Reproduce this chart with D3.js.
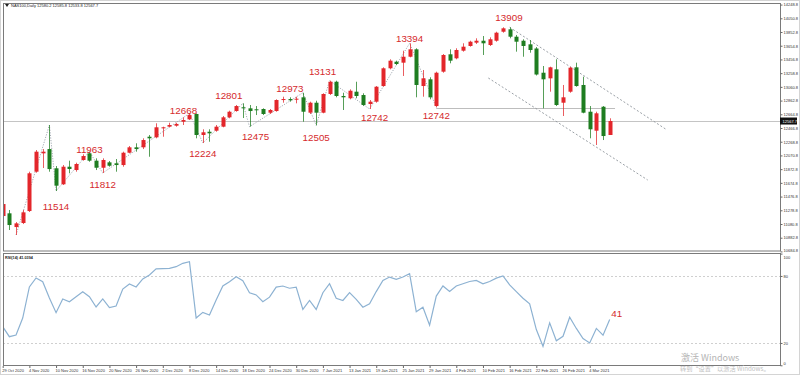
<!DOCTYPE html>
<html>
<head>
<meta charset="utf-8">
<script src="https://cdn.jsdelivr.net/npm/d3@7"></script>
<style>
body { margin: 0; background: #fff; }
svg { display: block; font-family: "Liberation Sans", Arial, sans-serif; }
</style>
</head>
<body>
<svg class="chart" width="800" height="375"></svg>
<script>
// ---- data ----
var dateLabels = ['29 Oct 2020', '4 Nov 2020', '10 Nov 2020', '16 Nov 2020', '20 Nov 2020', '26 Nov 2020',
    '2 Dec 2020', '8 Dec 2020', '14 Dec 2020', '18 Dec 2020', '24 Dec 2020', '30 Dec 2020',
    '7 Jan 2021', '13 Jan 2021', '19 Jan 2021', '25 Jan 2021', '29 Jan 2021', '4 Feb 2021',
    '10 Feb 2021', '16 Feb 2021', '22 Feb 2021', '26 Feb 2021', '4 Mar 2021'];

var opens  = [11196, 11235, 11037, 11095, 11268, 11836, 12101, 12163, 11885, 11654, 11908, 11860, 12005, 12101, 11995, 11893,
    11971, 11957, 11932, 12110, 12188, 12188, 12341, 12332, 12462, 12486, 12500, 12558, 12592, 12669, 12366, 12413,
    12428, 12486, 12621, 12712, 12766, 12751, 12737, 12741, 12688, 12712, 12871, 12885, 12881, 12910, 12688, 12832,
    12688, 12958, 13135, 12929, 12896, 12991, 12943, 12813, 12847, 13073, 13329, 13424, 13410, 13496, 13603, 13073,
    13170, 12784, 13280, 13531, 13473, 13583, 13651, 13699, 13727, 13665, 13727, 13857, 13892, 13785, 13727, 13675,
    13615, 13265, 13184, 13314, 12832, 12991, 13343, 13088, 12702, 12428, 12774, 12366];
var highs  = [11427, 11283, 11109, 11283, 11836, 12149, 12163, 12510, 11918, 11932, 11995, 11966, 12087, 12125, 12029, 12029,
    11990, 12019, 12125, 12207, 12246, 12318, 12366, 12535, 12486, 12543, 12543, 12621, 12679, 12679, 12448, 12448,
    12510, 12640, 12717, 12799, 12823, 12799, 12784, 12751, 12741, 12881, 12919, 12910, 12919, 12976, 12847, 12861,
    12968, 13150, 13150, 12976, 13025, 13135, 12968, 12871, 13073, 13343, 13459, 13439, 13583, 13690, 13618, 13304,
    13199, 13280, 13535, 13603, 13618, 13690, 13727, 13762, 13795, 13776, 13857, 13921, 13921, 13810, 13748, 13737,
    13636, 13362, 13352, 13459, 13088, 13352, 13410, 13208, 12784, 12702, 12784, 12607];
var lows   = [11153, 10994, 10922, 11080, 11254, 11821, 11889, 11836, 11557, 11644, 11813, 11836, 11995, 11980, 11860, 11817,
    11908, 11836, 11908, 12101, 12125, 12163, 12052, 12318, 12341, 12477, 12486, 12510, 12582, 12318, 12250, 12269,
    12413, 12477, 12607, 12702, 12611, 12486, 12654, 12654, 12669, 12702, 12832, 12847, 12823, 12558, 12669, 12506,
    12679, 12943, 12910, 12727, 12881, 12896, 12784, 12741, 12832, 13063, 13314, 13376, 13218, 13487, 12910, 12919,
    12881, 12766, 13265, 13401, 13459, 13569, 13641, 13680, 13521, 13651, 13713, 13843, 13762, 13569, 13496, 13554,
    13225, 12751, 12991, 12784, 12640, 12976, 13063, 12679, 12318, 12221, 12293, 12366];
var closes = [11369, 11066, 11090, 11249, 11813, 12125, 12125, 11874, 11634, 11908, 11875, 11947, 12062, 11995, 11893, 12005,
    11922, 11932, 12110, 12188, 12163, 12293, 12318, 12477, 12477, 12510, 12525, 12582, 12654, 12366, 12405, 12390,
    12486, 12621, 12702, 12784, 12751, 12712, 12727, 12669, 12727, 12871, 12885, 12867, 12890, 12702, 12832, 12688,
    12958, 13135, 12929, 12910, 13005, 12929, 12799, 12847, 13063, 13329, 13439, 13391, 13496, 13603, 13088, 13184,
    12910, 13265, 13521, 13439, 13593, 13641, 13713, 13727, 13690, 13748, 13843, 13906, 13785, 13713, 13651, 13593,
    13239, 13170, 13343, 12799, 12910, 13338, 13073, 12688, 12448, 12679, 12351, 12567.7];

var rsi = [34.6, 25.6, 27.1, 42.3, 70.1, 78.2, 74.8, 60.3, 47.1, 59.4, 56.9, 61.4, 65.9, 61.4, 52.2, 59.4,
    51.6, 53.1, 68.3, 72.8, 70.1, 77.3, 80.9, 86.3, 86.5, 86.8, 88.3, 91.3, 92.7, 42.3, 47.4, 45.0,
    58.5, 71.0, 74.8, 79.3, 75.7, 65.0, 63, 57, 61, 70, 71, 69, 70, 50,
    58, 50, 65, 73, 60, 58, 65, 59, 52, 55, 66, 76, 79, 77, 79, 82,
    48, 52, 36, 62, 71, 66, 71, 73, 75, 76, 73, 75, 78, 80, 72, 66,
    60, 55, 32, 17, 38, 22, 26, 43, 33, 24, 20, 33, 27, 41];

var priceTicks = [14248.8, 14050.8, 13852.8, 13654.8, 13456.8, 13258.8, 13060.8, 12862.8, 12664.8, 12466.8,
    12268.8, 12070.8, 11872.8, 11674.8, 11476.8, 11278.8, 11080.8, 10882.8, 10684.8];
var rsiTicks = [100, 80, 20, 0];
var rsiLevels = [80, 20];

// swing points of the zigzag: [bar, 'H' | 'L']
var pivots = [[2, 'L'], [7, 'H'], [8, 'L'], [13, 'H'], [15, 'L'], [28, 'H'], [30, 'L'], [36, 'H'], [37, 'L'],
    [45, 'H'], [47, 'L'], [49, 'H'], [55, 'L'], [61, 'H'], [65, 'L']];
// red notes written on the swings: [text, pivot bar, side]
var notes = [['11514', 8, 'L'], ['11963', 13, 'H'], ['11812', 15, 'L'], ['12668', 28, 'H'], ['12224', 30, 'L'],
    ['12801', 36, 'H'], ['12475', 37, 'L'], ['12973', 45, 'H'], ['12505', 47, 'L'], ['13131', 49, 'H'],
    ['12742', 55, 'L'], ['13394', 61, 'H'], ['12742', 65, 'L'], ['13909', 75, 'H']];
// hand drawn channel: [[bar, price], [bar, price]]
var channel = [[[76, 13921], [99.6, 12438]], [[72.8, 13189], [96.7, 11716]]];
var support = [[65, 12751], [91.8, 12751]];

var lastPrice = 12567.7;
var title = 'NAS100,Daily  12580.2 12585.8 12533.8 12567.7';
var rsiTitle = 'RSI(14) 41.0394';

// ---- layout ----
var panel = {left: 3, right: 780, top: 3, bottom: 251, rsiTop: 253, rsiBottom: 365.5};
var red = '#e3262b', green = '#1e7d20';

var svg = d3.select('.chart');

var x = d3.scaleLinear().domain([0, 91]).range([2.7, 609.7]);
var y = d3.scaleLinear().domain([11080.8, 14050.8]).range([224, 18.3]);
var yr = d3.scaleLinear().domain([0, 100]).range([365.3, 253.6]);

// window edge
svg.append('rect').attr('x', 0.5).attr('y', 0.5).attr('width', 799).attr('height', 374)
    .attr('fill', 'none').attr('stroke', '#d4d4d4');

var defs = svg.append('defs');
defs.append('clipPath').attr('id', 'clipMain').append('rect')
    .attr('x', panel.left).attr('y', panel.top)
    .attr('width', panel.right - panel.left).attr('height', panel.bottom - panel.top);
defs.append('clipPath').attr('id', 'clipRsi').append('rect')
    .attr('x', panel.left).attr('y', panel.rsiTop)
    .attr('width', panel.right - panel.left).attr('height', panel.rsiBottom - panel.rsiTop);

var main = svg.append('g').attr('clip-path', 'url(#clipMain)');

// current price line
main.append('line')
    .attr('x1', panel.left).attr('x2', panel.right)
    .attr('y1', Math.round(y(lastPrice)) + 0.5).attr('y2', Math.round(y(lastPrice)) + 0.5)
    .attr('stroke', '#c4c4c4');

// support level
main.append('line')
    .attr('x1', x(support[0][0])).attr('x2', x(support[1][0]))
    .attr('y1', Math.round(y(support[0][1])) + 0.5).attr('y2', Math.round(y(support[1][1])) + 0.5)
    .attr('stroke', '#bdbdbd');

// channel lines
main.selectAll('.channel')
    .data(channel)
    .enter().append('line').classed('channel', true)
    .attr('x1', function(d){ return x(d[0][0]); })
    .attr('y1', function(d){ return y(d[0][1]); })
    .attr('x2', function(d){ return x(d[1][0]); })
    .attr('y2', function(d){ return y(d[1][1]); })
    .attr('stroke', '#8f959c').attr('stroke-width', 0.9).attr('stroke-dasharray', '2,2');

// zigzag
var pivotY = function(p){ return p[1] === 'H' ? y(highs[p[0]]) : y(lows[p[0]]); };
main.append('path')
    .attr('d', d3.line().x(function(p){ return x(p[0]); }).y(pivotY)(pivots))
    .attr('fill', 'none').attr('stroke', '#9aa1aa').attr('stroke-width', 0.9).attr('stroke-dasharray', '1.2,1.4');

// candles
var bars = d3.range(opens.length).map(function(i){
    return {i: i, o: opens[i], h: highs[i], l: lows[i], c: closes[i]};
});

var candles = main.selectAll('.candle')
    .data(bars)
    .enter().append('g').classed('candle', true);

candles.append('line')
    .attr('x1', function(d){ return Math.round(x(d.i)) + 0.5; })
    .attr('x2', function(d){ return Math.round(x(d.i)) + 0.5; })
    .attr('y1', function(d){ return y(d.h); })
    .attr('y2', function(d){ return y(d.l); })
    .attr('stroke', function(d){ return d.c >= d.o ? red : green; })
    .attr('stroke-opacity', 0.75);

candles.append('rect')
    .attr('x', function(d){ return Math.round(x(d.i)) - 1.5; })
    .attr('width', 4)
    .attr('y', function(d){ return y(Math.max(d.o, d.c)); })
    .attr('height', function(d){ return Math.max(1, Math.abs(y(d.o) - y(d.c))); })
    .attr('fill', function(d){ return d.c >= d.o ? red : green; });

// notes on the swings
var noteShift = {8: [0, 15], 13: [0, -2], 15: [0, 11], 28: [-6, -3], 30: [0, 10], 36: [-14, -8], 37: [6, 10],
    45: [-13, -4], 47: [0, 12], 49: [-7, -9], 55: [5, 8], 61: [0, -5], 65: [0, 8], 75: [6, -10]};
svg.selectAll('.note')
    .data(notes)
    .enter().append('text').classed('note', true)
    .attr('x', function(d){ return x(d[1]) + noteShift[d[1]][0]; })
    .attr('y', function(d){
        var base = d[2] === 'H' ? y(highs[d[1]]) : y(lows[d[1]]);
        return base + noteShift[d[1]][1] + 3.5;
    })
    .attr('text-anchor', 'middle')
    .attr('font-size', 9.8)
    .attr('fill', '#d5292c')
    .text(function(d){ return d[0]; });

// rsi panel
var rsiG = svg.append('g').attr('clip-path', 'url(#clipRsi)');
rsiG.selectAll('.level')
    .data(rsiLevels)
    .enter().append('line').classed('level', true)
    .attr('x1', panel.left).attr('x2', panel.right)
    .attr('y1', function(d){ return Math.round(yr(d)) + 0.5; })
    .attr('y2', function(d){ return Math.round(yr(d)) + 0.5; })
    .attr('stroke', '#cfcfcf').attr('stroke-dasharray', '2,2');

rsiG.append('path')
    .attr('d', d3.line().x(function(d, i){ return x(i); }).y(function(d){ return yr(d); })(rsi))
    .attr('fill', 'none').attr('stroke', '#8db2d2').attr('stroke-width', 1.2);

svg.append('text')
    .attr('x', x(rsi.length - 1) + 1.5).attr('y', yr(rsi[rsi.length - 1]) - 3)
    .attr('font-size', 9.8).attr('fill', '#d5292c')
    .text(rsi[rsi.length - 1]);

// frames
[[panel.top, panel.bottom], [panel.rsiTop, panel.rsiBottom]].forEach(function(p){
    svg.append('rect')
        .attr('x', panel.left + 0.5).attr('y', p[0] + 0.5)
        .attr('width', panel.right - panel.left).attr('height', p[1] - p[0] - 0.5)
        .attr('fill', 'none').attr('stroke', '#7a7a7a');
});

// axes
var axisY = svg.append('g')
    .attr('transform', 'translate(' + (panel.right + 0.5) + ',0)')
    .call(d3.axisRight(y).tickValues(priceTicks).tickSize(2).tickPadding(1).tickFormat(d3.format('.1f')));

var axisR = svg.append('g')
    .attr('transform', 'translate(' + (panel.right + 0.5) + ',0)')
    .call(d3.axisRight(yr).tickValues(rsiTicks).tickSize(2).tickPadding(1));

var dateIdx = dateLabels.map(function(d, k){ return k * 4; });
var axisX = svg.append('g')
    .attr('transform', 'translate(0,' + (panel.rsiBottom + 0.5) + ')')
    .call(d3.axisBottom(x).tickValues(dateIdx).tickSize(2).tickPadding(1)
        .tickFormat(function(d){ return dateLabels[d / 4]; }));

[axisY, axisR, axisX].forEach(function(a){
    a.select('.domain').remove();
    a.selectAll('line').attr('stroke', '#666');
    a.selectAll('text').attr('font-size', 4).attr('fill', '#333')
        .attr('font-family', '"Liberation Sans", Arial, sans-serif');
});
axisX.selectAll('text').attr('text-anchor', 'start').attr('dx', -1);
// keep the bottom price label and the rsi "100" apart
axisY.selectAll('.tick').filter(function(d){ return d === priceTicks[priceTicks.length - 1]; })
    .select('text').attr('dy', '-0.05em');
axisR.selectAll('.tick').filter(function(d){ return d === 100; })
    .select('text').attr('dy', '1.2em');
axisR.selectAll('.tick').filter(function(d){ return d === 0; })
    .select('text').attr('dy', '-0.2em');

// last price tag
var tagY = y(lastPrice);
svg.append('rect').attr('x', panel.right).attr('y', tagY - 3.5).attr('width', 17).attr('height', 7).attr('fill', '#111');
svg.append('text').attr('x', panel.right + 2.5).attr('y', tagY + 1.5)
    .attr('font-size', 4).attr('fill', '#fff').text(d3.format('.1f')(lastPrice));

// titles
svg.append('path').attr('d', 'M5,4 L9,4 L7,7 Z').attr('fill', '#222');
svg.append('text').attr('x', 11).attr('y', 7).attr('font-size', 4).attr('fill', '#222').text(title);
svg.append('text').attr('x', 5).attr('y', 258.5).attr('font-size', 3.8).attr('font-weight', 'bold')
    .attr('fill', '#222').text(rsiTitle);

// activation watermark
svg.append('text').attr('x', 681).attr('y', 361).attr('font-size', 9).attr('fill', '#b4b4b4')
    .attr('font-family', '"Noto Sans CJK SC", sans-serif').text('激活 Windows');
svg.append('text').attr('x', 680).attr('y', 371).attr('font-size', 6.2).attr('fill', '#c2c2c2')
    .attr('font-family', '"Noto Sans CJK SC", sans-serif').text('转到“设置”以激活 Windows。');
</script>
</body>
</html>
